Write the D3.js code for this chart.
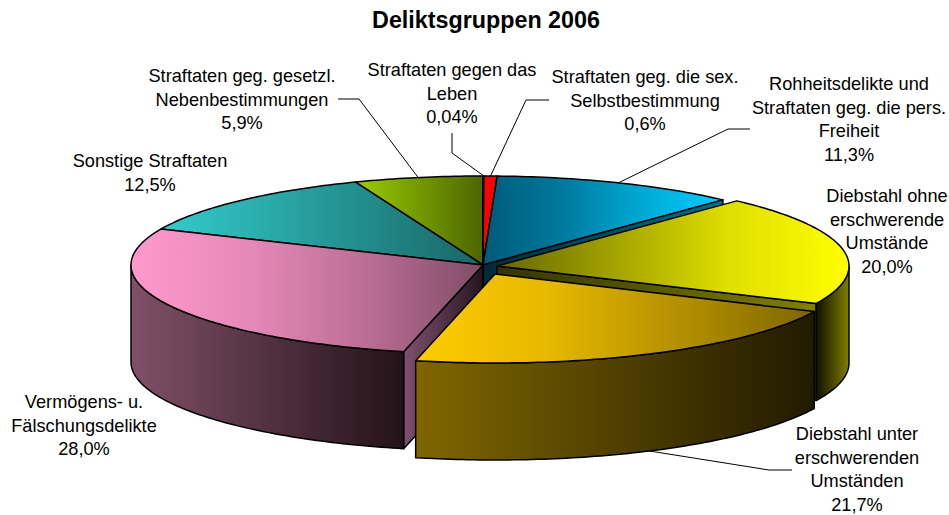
<!DOCTYPE html>
<html lang="de">
<head>
<meta charset="utf-8">
<title>Deliktsgruppen 2006</title>
<script src="https://d3js.org/d3.v7.min.js"></script>
<style>
  html, body { margin: 0; padding: 0; background: #fff; }
  svg { display: block; }
  text { font-family: "Liberation Sans", Arial, sans-serif; fill: #000; }
</style>
</head>
<body>
<div id="chart"></div>
<script>
// data
var categories = [
  "Straftaten gegen das Leben",
  "Straftaten geg. die sex. Selbstbestimmung",
  "Rohheitsdelikte und Straftaten geg. die pers. Freiheit",
  "Diebstahl ohne erschwerende Umstände",
  "Diebstahl unter erschwerenden Umständen",
  "Vermögens- u. Fälschungsdelikte",
  "Sonstige Straftaten",
  "Straftaten geg. gesetzl. Nebenbestimmungen"
];
var shares = [0.04, 0.6, 11.3, 20.0, 21.7, 28.0, 12.5, 5.9];
var shareLabels = ["0,04%", "0,6%", "11,3%", "20,0%", "21,7%", "28,0%", "12,5%", "5,9%"];
var labelLines = [
  ["Straftaten gegen das", "Leben"],
  ["Straftaten geg. die sex.", "Selbstbestimmung"],
  ["Rohheitsdelikte und", "Straftaten geg. die pers.", "Freiheit"],
  ["Diebstahl ohne", "erschwerende", "Umstände"],
  ["Diebstahl unter", "erschwerenden", "Umständen"],
  ["Vermögens- u.", "Fälschungsdelikte"],
  ["Sonstige Straftaten"],
  ["Straftaten geg. gesetzl.", "Nebenbestimmungen"]
];

// layout and style
var W = 949, H = 515;
var cx = 483, cy = 265, rx = 352, ry = 89, depth = 97;
var offsets = [[0,0],[0,0],[0,0],[14,1],[12,9],[0,0],[0,0],[0,0]];
var topColors = [
  ["#ff0000","#ff0000"], ["#ff0000","#ff0000"], ["#005a78","#007a9e","#00aad4","#00ccff"],
  ["#666600","#a3a300","#e0e000","#ffff00"], ["#ffcc00","#e6b800","#b38f00","#7f6600"], ["#ff99cc","#e689b8","#bb6e95","#804d66"],
  ["#33cccc","#196666"], ["#99cc00","#4d6600"]
];
var labelPos = [[452,76],[645,83],[849,90],[887,202],[857,440],[84,408],[150,167],[242,82]];
var lineH = 23.5;

var svg = d3.select("#chart").append("svg").attr("width", W).attr("height", H);
var defs = svg.append("defs");

svg.append("text").attr("x", 486).attr("y", 28).attr("text-anchor", "middle")
  .style("font-size", "23.3px").style("font-weight", "bold").text("Deliktsgruppen 2006");

var arcs = d3.pie().sort(null).startAngle(0).endAngle(2 * Math.PI)(shares);

var line = d3.line().x(function(d){ return d[0]; }).y(function(d){ return d[1]; });

function pt(i, a, dy) {
  return [cx + offsets[i][0] + rx * Math.sin(a),
          cy + offsets[i][1] - ry * Math.cos(a) + (dy || 0)];
}
function apex(i, dy) {
  return [cx + offsets[i][0], cy + offsets[i][1] + (dy || 0)];
}
function rim(i, a0, a1, dy) {
  var n = Math.max(2, Math.ceil(Math.abs(a1 - a0) * 60));
  return d3.range(n + 1).map(function(k){ return pt(i, a0 + (a1 - a0) * k / n, dy); });
}
function gradient(id, x0, x1, stops) {
  var g = defs.append("linearGradient").attr("id", id)
    .attr("gradientUnits", "userSpaceOnUse")
    .attr("x1", x0).attr("x2", x1).attr("y1", 0).attr("y2", 0);
  stops.forEach(function(c, k){
    g.append("stop").attr("offset", k / (stops.length - 1)).attr("stop-color", c);
  });
  return "url(#" + id + ")";
}
function shape(points, fill) {
  return svg.append("path").attr("d", line(points) + "Z").attr("fill", fill)
    .attr("stroke", "#000").attr("stroke-width", 1.5).attr("stroke-linejoin", "round");
}
function drawTop(i) {
  var pts = [apex(i)].concat(rim(i, arcs[i].startAngle, arcs[i].endAngle));
  var xs = d3.extent(pts, function(d){ return d[0]; });
  shape(pts, gradient("top" + i, xs[0], xs[1], topColors[i]));
}
function drawOuter(i, a0, a1, c0, c1) {
  var upper = rim(i, a0, a1), lower = rim(i, a1, a0, depth);
  var xs = d3.extent(upper, function(d){ return d[0]; });
  shape(upper.concat(lower), gradient("outer" + i, xs[0], xs[1], [c0, c1]));
}
function drawCut(i, a, c0, c1) {
  var e0 = pt(i, a), e1 = pt(i, a, depth), a0 = apex(i), a1 = apex(i, depth);
  var lo = Math.min(e0[0], a0[0]), hi = Math.max(e0[0], a0[0]);
  shape([a0, e0, e1, a1], gradient("cut" + i + "_" + Math.round(a * 100), lo, hi, [c0, c1]));
}

// back to front, slices further behind get covered by the ones in front
[7, 0, 1, 2, 6].forEach(drawTop);
drawCut(2, arcs[2].endAngle, "#002a38", "#00708c");
drawCut(5, arcs[5].startAngle, "#805070", "#241620");
drawOuter(5, arcs[5].startAngle, 1.5 * Math.PI, "#805068", "#231318");
drawTop(5);
drawCut(3, arcs[3].endAngle, "#333300", "#808000");
drawOuter(3, Math.PI / 2, arcs[3].endAngle, "#101000", "#808000");
drawTop(3);
drawOuter(4, arcs[4].startAngle, arcs[4].endAngle, "#806600", "#211a00");
drawTop(4);

// leader lines
var leaders = [
  [pt(0, arcs[0].endAngle), [452, 153], [452, 133]],
  [pt(1, (arcs[1].startAngle + arcs[1].endAngle) / 2), [526, 100], [549, 100]],
  [pt(2, (arcs[2].startAngle + arcs[2].endAngle) / 2), [728, 129], [750, 129]],
  [pt(4, (arcs[4].startAngle + arcs[4].endAngle) / 2, depth), [769, 470], [792, 470]],
  [pt(7, (arcs[7].startAngle + arcs[7].endAngle) / 2), [359, 99], [338, 99]]
];
leaders.forEach(function(l){
  svg.append("path").attr("d", line(l)).attr("fill", "none")
    .attr("stroke", "#000").attr("stroke-width", 1);
});

// labels
categories.forEach(function(c, i){
  var t = svg.append("text").attr("text-anchor", "middle").style("font-size", "18.2px")
    .attr("aria-label", c);
  labelLines[i].concat([shareLabels[i]]).forEach(function(s, k){
    t.append("tspan").attr("x", labelPos[i][0]).attr("y", labelPos[i][1] + k * lineH).text(s);
  });
});
</script>
</body>
</html>
